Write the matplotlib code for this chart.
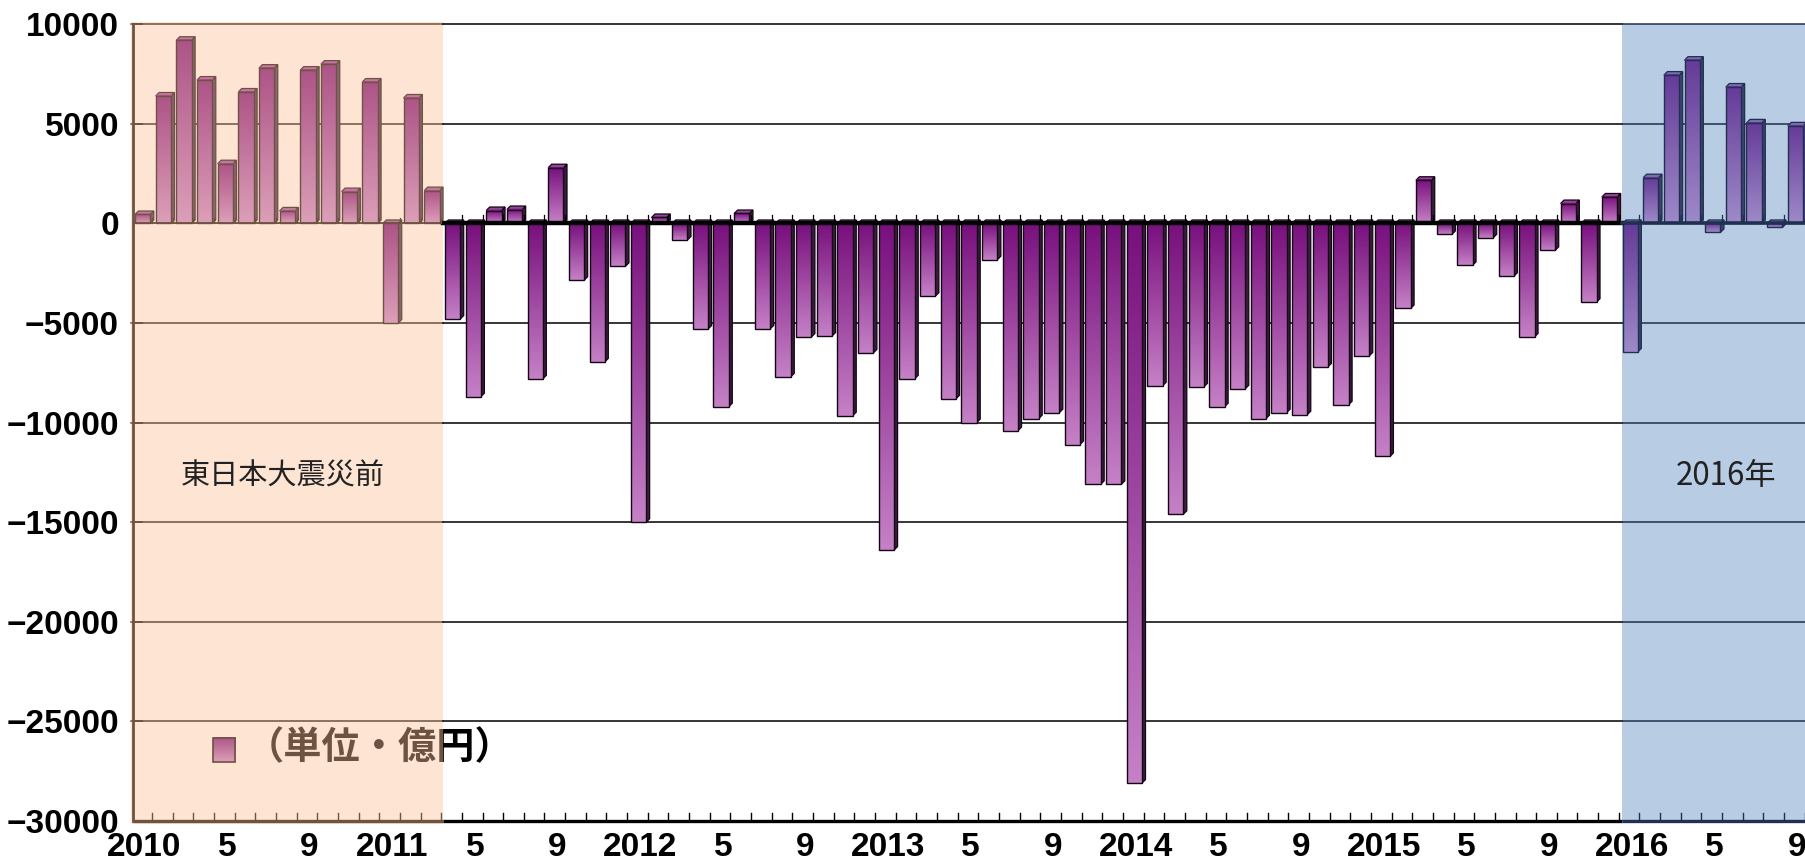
import matplotlib
matplotlib.use("Agg")
import matplotlib.pyplot as plt
import numpy as np
from matplotlib.colors import LinearSegmentedColormap
from matplotlib.patches import Polygon, Rectangle
from matplotlib.transforms import Bbox, TransformedBbox

# monthly trade balance (億円), Jan 2010 .. Sep 2016
bal_2010 = [450, 6400, 9200, 7200, 3000, 6600, 7800, 630, 7700, 8000, 1600, 7100]
bal_2011 = [-5000, 6300, 1650, -4800, -8700, 650, 700, -7800, 2800, -2850, -6950, -2150]
bal_2012 = [-15000, 300, -830, -5300, -9200, 500, -5300, -7700, -5700, -5650, -9650, -6500]
bal_2013 = [-16400, -7800, -3650, -8800, -10000, -1820, -10400, -9800, -9500, -11100, -13100, -13100]
bal_2014 = [-28100, -8150, -14600, -8200, -9200, -8300, -9800, -9500, -9600, -7200, -9100, -6650]
bal_2015 = [-11700, -4270, 2170, -550, -2100, -720, -2650, -5700, -1350, 1000, -3950, 1330]
bal_2016 = [-6450, 2300, 7450, 8200, -450, 6850, 5050, -200, 4900]

years = ["2010", "2011", "2012", "2013", "2014", "2015", "2016"]
month_marks = [(0, None), (4, "5"), (8, "9")]   # Jan shows the year
yticks = [10000, 5000, 0, -5000, -10000, -15000, -20000, -25000, -30000]

pre_quake_months = 15      # Jan 2010 - Mar 2011
highlight_start = 72       # Jan 2016

values = np.array(bal_2010 + bal_2011 + bal_2012 + bal_2013 + bal_2014 + bal_2015 + bal_2016)
n = len(values)

# ---------------------------------------------------------------------------
# styles
# ---------------------------------------------------------------------------
PEACH = "#fde4d3"
SKY = "#b8cce4"
BROWN = "#6e5242"
NAVY = "#1f3050"

styles = {
    "pre": dict(top="#ad5487", bottom="#dc9fb8", edge=BROWN, side="#8a6470", cap="#c27a9c"),
    "mid": dict(top="#78107d", bottom="#c581c6", edge="#140514", side="#3a1d3e", cap="#93449a"),
    "new": dict(top="#653b98", bottom="#9d8ac8", edge=NAVY, side="#3b426c", cap="#7b69b2"),
}
for s in styles.values():
    s["cmap"] = LinearSegmentedColormap.from_list("g", [s["top"], s["bottom"]])

label_font = dict(family=["Liberation Sans", "DejaVu Sans"], weight="bold", size=24)
cjk = ["Noto Sans CJK JP", "DejaVu Sans"]

fig = plt.figure(figsize=(18.06, 8.64), dpi=100)
ax = fig.add_axes([0.07364, 0.0498, 0.92636, 0.9221])

x_lo, x_hi = -0.467, 80.51
y_lo, y_hi = -30000, 10000
split_a = pre_quake_months - 0.46
split_b = highlight_start - 0.4


def region_of(x):
    if x < split_a:
        return "pre"
    if x >= split_b:
        return "new"
    return "mid"


line_col = {"pre": BROWN, "mid": "black", "new": NAVY}
segments = [("pre", x_lo - 0.1, split_a), ("mid", split_a, split_b), ("new", split_b, x_hi + 0.1)]

# shaded periods
ax.add_patch(Rectangle((x_lo - 0.1, y_lo - 150), split_a - x_lo + 0.1, y_hi - y_lo + 250,
                       facecolor=PEACH, edgecolor="none", zorder=0.5, clip_on=False))
ax.add_patch(Rectangle((split_b, y_lo), x_hi - split_b + 1, y_hi - y_lo,
                       facecolor=SKY, edgecolor="none", zorder=0.5))

# horizontal grid lines
for yv in yticks[:-1]:
    if yv == 0:
        continue
    for reg, a, b in segments:
        ax.plot([a, b], [yv, yv], color=line_col[reg], lw=1.1, zorder=1.5, clip_on=False)

# ---------------------------------------------------------------------------
# 3-D looking bars
# ---------------------------------------------------------------------------
half_w = 0.37
dx, dy = 0.17, 175
grad = np.linspace(0, 1, 128)[:, None]

for i, v in enumerate(values):
    st = styles[region_of(i)]
    x0, x1 = i - half_w, i + half_w
    lo, hi = min(0, v), max(0, v)
    side = Polygon([(x1, lo), (x1 + dx, lo + dy), (x1 + dx, hi + dy), (x1, hi)],
                   facecolor=st["side"], edgecolor=st["edge"], lw=0.9, zorder=3)
    cap = Polygon([(x0, hi), (x0 + dx, hi + dy), (x1 + dx, hi + dy), (x1, hi)],
                  facecolor=st["cap"], edgecolor=st["edge"], lw=0.9, zorder=3)
    ax.add_patch(side)
    ax.add_patch(cap)
    ax.imshow(grad, extent=(x0, x1, lo, hi), aspect="auto", cmap=st["cmap"],
              origin="upper", interpolation="bilinear", zorder=3.2)
    ax.add_patch(Rectangle((x0, lo), x1 - x0, hi - lo, facecolor="none",
                           edgecolor=st["edge"], lw=1.0, zorder=3.4))

# zero line with small category ticks (the "floor" of the 3-D chart)
zero_lw = {"pre": 1.3, "mid": 3.2, "new": 2.6}
for reg, a, b in segments:
    ax.plot([max(a, x_lo), min(b, x_hi)], [0, 0], color=line_col[reg], lw=zero_lw[reg], zorder=5)
for i in range(n):
    xb = i + 0.45
    if xb > x_hi:
        break
    reg = region_of(xb)
    h = 250 if reg == "pre" else 420
    ax.plot([xb, xb], [0, h], color=line_col[reg], lw=0.9, zorder=5)

# bottom axis with inward ticks
for reg, a, b in segments:
    ax.plot([max(a, x_lo), b], [y_lo, y_lo], color=line_col[reg], lw=2.4, zorder=5,
            clip_on=False, solid_capstyle="butt")
for i in range(n):
    xb = i + 0.45
    if xb > x_hi:
        break
    ax.plot([xb, xb], [y_lo, y_lo + 380], color=line_col[region_of(xb)], lw=1.0, zorder=5)

# ---------------------------------------------------------------------------
# axes and labels
# ---------------------------------------------------------------------------
ax.set_xlim(x_lo, x_hi)
ax.set_ylim(y_lo, y_hi)
for side in ("top", "right", "bottom"):
    ax.spines[side].set_visible(False)
ax.spines["left"].set_color(BROWN)
ax.spines["left"].set_linewidth(2.0)
ax.spines["left"].set_zorder(6)

ax.set_yticks(yticks)
ax.set_yticklabels([f"{t}".replace("-", "\u2212") for t in yticks], fontdict=label_font)
ax.tick_params(axis="y", direction="in", length=7, width=1.3, color=BROWN, pad=10)

xpos, xlab = [], []
for k, yr in enumerate(years):
    for m, lab in month_marks:
        idx = 12 * k + m
        if idx < n:
            xpos.append(idx + 0.08)
            xlab.append(lab if lab else yr)
ax.set_xticks(xpos)
ax.set_xticklabels(xlab, fontdict=label_font)
ax.tick_params(axis="x", length=0, pad=8)

# period annotations
ax.text(6.79, -12700, "東日本大震災前", family=cjk, fontsize=21, color="#222222",
        ha="center", va="center", zorder=6)
ax.text(76.64, -12700, "2016年", family=cjk, fontsize=22.5, color="#222222",
        ha="center", va="center", zorder=6)

# legend-like unit note: brown where it sits on the peach band, black elsewhere
sw = Rectangle((3.40, -27040), 1.07, 1210, facecolor="none", edgecolor=BROWN, lw=1.2, zorder=7)
ax.imshow(grad, extent=(3.40, 4.47, -27040, -25830), aspect="auto", cmap=styles["pre"]["cmap"],
          origin="upper", zorder=6.8)
ax.add_patch(sw)
for col, (a, b) in ((BROWN, (x_lo - 1, split_a)), ("black", (split_a, x_hi))):
    t = ax.text(5.0, -26330, "（単位・億円）", family=cjk, fontsize=27.5, weight="bold",
                color=col, ha="left", va="center", zorder=7)
    t.set_clip_on(True)
    t.set_clip_box(TransformedBbox(Bbox([[a, y_lo - 5000], [b, y_hi]]), ax.transData))

ax.set_xlim(x_lo, x_hi)
ax.set_ylim(y_lo, y_hi)
fig.savefig("out.png", dpi=100)
